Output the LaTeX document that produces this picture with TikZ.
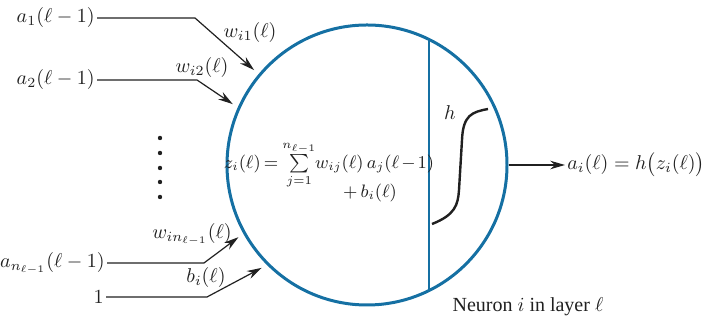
\documentclass[tikz,border=0pt]{standalone}
\usepackage{amsmath,amssymb}
\usepackage{fontspec}
\setmainfont{Liberation Serif}
\usepackage{tikz}
\usetikzlibrary{arrows.meta,calc,positioning}
\definecolor{NeuronBlue}{HTML}{1570A3}
\definecolor{FigDark}{HTML}{202020}
\newcommand{\NeuronText}{\fontsize{10}{12}\selectfont}
\newcommand{\NeuronSum}{\fontsize{9.2}{11}\selectfont}
\tikzset{
  neuronbody/.style={
    circle,
    draw=NeuronBlue,
    line width=1.5pt,
    inner sep=0pt
  },
  splitline/.style={
    draw=NeuronBlue,
    line width=1.3pt
  },
  inlabel/.style={
    inner sep=1pt,
    text=FigDark,
    anchor=east,
    font=\NeuronText
  },
  wlabel/.style={
    inner sep=1pt,
    text=FigDark,
    font=\NeuronText
  },
  inarrow/.style={
    -{Stealth[length=2.6mm,width=1.5mm]},
    draw=FigDark,
    line width=0.6pt,
    shorten >=3pt
  },
  sigmoid/.style={
    draw=FigDark,
    line width=1.2pt
  }
}

\begin{document}
\begin{tikzpicture}[x=0.5pt,y=0.5pt]
\path[use as bounding box] (0,0) rectangle (707,330);

\node[neuronbody, minimum size=140pt] (neuron) at (367,165) {};
\draw[splitline] (neuron.64.6) -- (neuron.-64.6);

% inputs
\node[inlabel] (a1) at (97,312) {$a_1(\ell-1)$};
\node[inlabel] (a2) at (97,250) {$a_2(\ell-1)$};
\node[inlabel] (an) at (107,67) {$a_{n_{\ell-1}}(\ell-1)$};
\node[inlabel] (one) at (106,33) {$1$};

\coordinate (k1) at (195,312);
\coordinate (k2) at (197,250);
\coordinate (kn) at (204,67);
\coordinate (ko) at (207,33);

\draw[inarrow] (a1.east) -- (k1) -- (neuron.140);
\draw[inarrow] (a2.east) -- (k2) -- (neuron.156);
\draw[inarrow] (an.east) -- (kn) -- (neuron.209);
\draw[inarrow] (one.east) -- (ko) -- (neuron.225);

\node[wlabel] (w1) at (250,297) {$w_{i1}(\ell)$};
\node[wlabel] (w2) at (202,262) {$w_{i2}(\ell)$};
\node[wlabel] (wn) at (192,96) {$w_{in_{\ell-1}}(\ell)$};
\node[wlabel] (bi) at (206,52) {$b_i(\ell)$};

\foreach \yy in {192,177,162,148,133}
  \fill[FigDark] (160,\yy) circle (2.2);

% weighted sum
\node[wlabel, font=\NeuronSum] (zsum) at (329,165)
  {$z_i(\ell)\mkern-2mu=\mkern-1mu{\textstyle\sum\limits_{j=1}^{n_{\ell-1}}}\mkern-1mu w_{ij}(\ell)\,a_j(\ell\mkern-2mu-\mkern-2mu1)$};
\node[wlabel, font=\NeuronSum] (bsum) at (370,137) {$+\,b_i(\ell)$};

% activation
\node[wlabel] (hlab) at (450,217) {$h$};
\draw[sigmoid] (432,106) .. controls (455,115) and (458,125) .. (459,140)
  -- (462,190) .. controls (463,215) and (472,218) .. (488,221);

\node[wlabel, anchor=west] (out) at (565,165) {$a_i(\ell)=h\bigl(z_i(\ell)\bigr)$};
\draw[inarrow, shorten >=0pt] (neuron.east) -- (out.west);

\node[wlabel] (cap) at (528,23) {Neuron $i$ in layer $\ell$};

\end{tikzpicture}
\end{document}
